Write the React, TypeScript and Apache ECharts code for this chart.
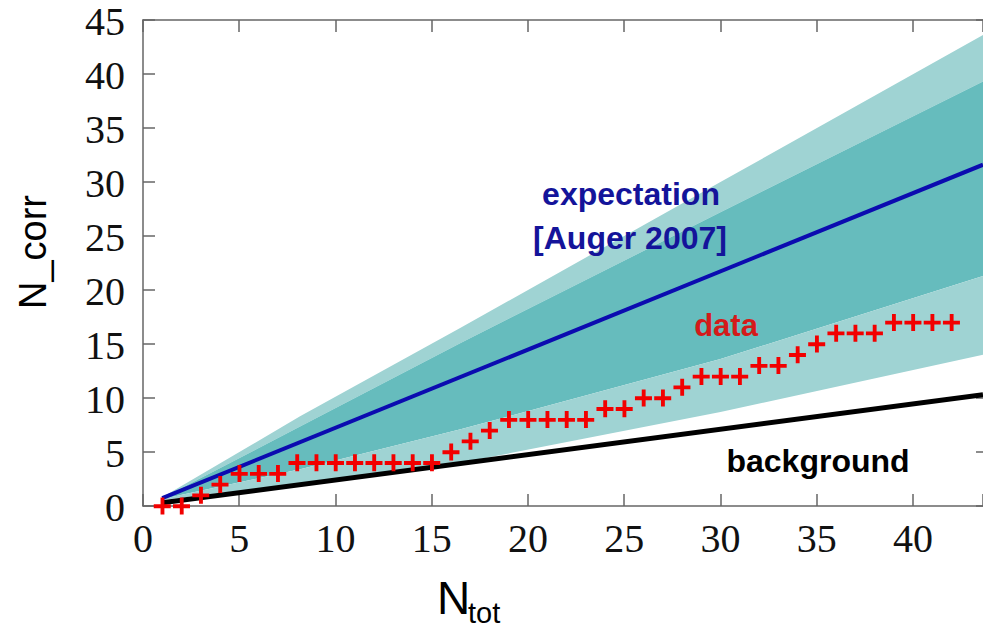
import React, { useEffect, useRef } from "react";
import * as echarts from "echarts";

// ---- data ----
const dataX = [1,2,3,4,5,6,7,8,9,10,11,12,13,14,15,16,17,18,19,20,21,22,23,24,25,26,27,28,29,30,31,32,33,34,35,36,37,38,39,40,41,42];
const dataY = [0,0,1,2,3,3,3,4,4,4,4,4,4,4,4,5,6,7,8,8,8,8,8,9,9,10,10,11,12,12,12,13,13,14,15,16,16,16,17,17,17,17];

const lineX = [1, 43.64];
const expectationY = [0.72, 31.6];
const backgroundY = [0.3, 10.3];

const bandX = [1, 8.16, 16.5, 30, 43.64];
const lightUpper = [0.8, 8.3, 16.5, 30.0, 43.6];
const darkUpper = [0.75, 7.35, 15.1, 27.2, 39.3];
const darkLower = [0.65, 3.4, 7.1, 13.6, 21.3];
const lightLower = [0.55, 2.1, 4.0, 8.7, 14.0];

const xTicks = [0, 5, 10, 15, 20, 25, 30, 35, 40];
const yTicks = [0, 5, 10, 15, 20, 25, 30, 35, 40, 45];

const LIGHT = "#9fd3d3";
const DARK = "#66bcbd";
const AXIS = "#666666";
const SERIF = "'Liberation Serif', serif";
const SANS = "'Liberation Sans', sans-serif";

function bandSeries(upper: number[], lower: number[], color: string) {
  return {
    type: "custom",
    z: 1,
    silent: true,
    data: [[bandX[0], lower[0]]],
    renderItem: (_p: any, api: any) => {
      const pts: number[][] = [];
      for (let i = 0; i < bandX.length; i++) pts.push(api.coord([bandX[i], upper[i]]));
      for (let i = bandX.length - 1; i >= 0; i--) pts.push(api.coord([bandX[i], lower[i]]));
      return { type: "polygon", shape: { points: pts }, style: { fill: color, stroke: null } };
    },
  };
}

export default function App() {
  const ref = useRef<HTMLDivElement>(null);
  useEffect(() => {
    document.body.style.margin = "0";
    const chart = echarts.init(ref.current!, null, { renderer: "svg" });
    const line = { show: true, onZero: false, lineStyle: { color: AXIS, width: 1.5 } };
    const tick = { show: true, inside: true, length: 12, lineStyle: { color: AXIS, width: 1.5 } };
    chart.setOption({
      animation: false,
      grid: { left: 143, top: 20, width: 840, height: 486, containLabel: false },
      xAxis: [
        {
          type: "value", min: 0, max: 43.64, interval: 5, position: "bottom",
          axisLine: line, axisTick: tick, splitLine: { show: false },
          axisLabel: { show: false },
        },
        {
          type: "value", min: 0, max: 43.64, interval: 5, position: "top",
          axisLine: line, axisTick: tick, splitLine: { show: false },
          axisLabel: { show: false },
        },
      ],
      yAxis: [
        {
          type: "value", min: 0, max: 45, interval: 5, position: "left",
          axisLine: line, axisTick: tick, splitLine: { show: false },
          axisLabel: { show: false },
        },
        {
          type: "value", min: 0, max: 45, interval: 5, position: "right",
          axisLine: { show: false, onZero: false },
          axisTick: { show: true, inside: true, length: 7, lineStyle: { color: AXIS, width: 1.5 } },
          splitLine: { show: false },
          axisLabel: { show: false },
        },
      ],
      series: [
        bandSeries(lightUpper, darkUpper, LIGHT),
        bandSeries(darkUpper, darkLower, DARK),
        bandSeries(darkLower, lightLower, LIGHT),
        {
          type: "line", z: 2, silent: true, symbol: "none",
          data: lineX.map((x, i) => [x, backgroundY[i]]),
          lineStyle: { color: "#000", width: 5 },
        },
        {
          type: "line", z: 3, silent: true, symbol: "none",
          data: lineX.map((x, i) => [x, expectationY[i]]),
          lineStyle: { color: "#0b0bb0", width: 4 },
        },
        {
          type: "scatter", z: 4, silent: true,
          symbol: "path://M6,0H9.4V6H15V9.4H9.4V15H6V9.4H0V6H6Z",
          symbolSize: 17,
          itemStyle: { color: "#f20000", opacity: 1 },
          data: dataX.map((x, i) => [x, dataY[i]]),
        },
      ],
    });

    // tick labels placed through the axes' own scales
    const tickLabels: any[] = [];
    xTicks.forEach((v) => {
      const px = chart.convertToPixel({ xAxisIndex: 0 }, v) as number;
      tickLabels.push({
        type: "text", z: 100, x: px, y: 538,
        style: { text: String(v), fill: "#111", font: `40px ${SERIF}`, align: "center", verticalAlign: "middle" },
      });
    });
    yTicks.forEach((v) => {
      const py = chart.convertToPixel({ yAxisIndex: 0 }, v) as number;
      tickLabels.push({
        type: "text", z: 100, x: 125, y: py + 1,
        style: { text: String(v), fill: "#111", font: `40px ${SERIF}`, align: "right", verticalAlign: "middle" },
      });
    });

    chart.setOption({
      graphic: [
        ...tickLabels,
        { type: "text", z: 100, x: 631, y: 194, style: { text: "expectation", fill: "#14149a", font: `bold 32px ${SANS}`, align: "center", verticalAlign: "middle" } },
        { type: "text", z: 100, x: 630, y: 238, style: { text: "[Auger 2007]", fill: "#14149a", font: `bold 32px ${SANS}`, align: "center", verticalAlign: "middle" } },
        { type: "text", z: 100, x: 726, y: 325, style: { text: "data", fill: "#d41a1a", font: `bold 31px ${SANS}`, align: "center", verticalAlign: "middle" } },
        { type: "text", z: 100, x: 818, y: 461, style: { text: "background", fill: "#000", font: `bold 32px ${SANS}`, align: "center", verticalAlign: "middle" } },
        { type: "text", z: 100, x: 33, y: 252, rotation: Math.PI / 2, style: { text: "N_corr", fill: "#000", font: `38px ${SANS}`, align: "center", verticalAlign: "middle" } },
        { type: "text", z: 100, x: 437, y: 598, style: { text: "N", fill: "#000", font: `46px ${SANS}`, align: "left", verticalAlign: "middle" } },
        { type: "text", z: 100, x: 468, y: 613, style: { text: "tot", fill: "#000", font: `29px ${SANS}`, align: "left", verticalAlign: "middle" } },
      ],
    });
    return () => chart.dispose();
  }, []);
  return <div ref={ref} style={{ width: 983, height: 631 }} />;
}
